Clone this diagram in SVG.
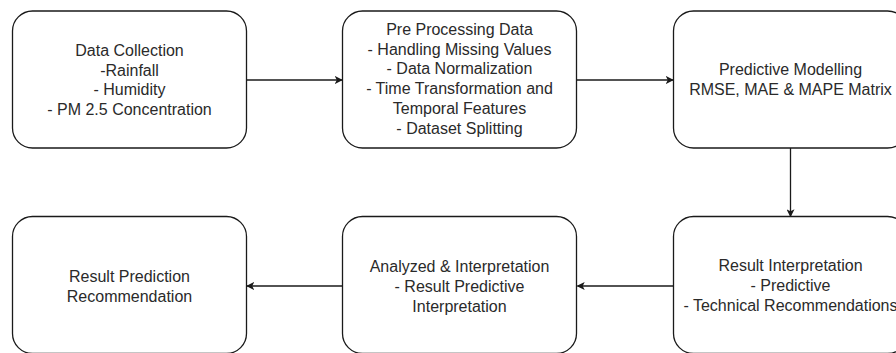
<svg xmlns="http://www.w3.org/2000/svg" width="896" height="353" viewBox="0 0 896 353">
<style>
.box{fill:#fff;stroke:#1a1a1a;stroke-width:1.3}
.t{font-family:"Liberation Sans",Arial,sans-serif;font-size:16px;fill:#2a2a2a;text-anchor:middle}
.c{stroke:#1a1a1a;stroke-width:1.3;fill:none;marker-end:url(#ah)}
</style>
<defs>
<marker id="ah" viewBox="0 0 10 10" refX="9" refY="5" markerWidth="8" markerHeight="8" markerUnits="userSpaceOnUse" orient="auto">
<path d="M0,0 L10,5 L0,10 L2.5,5 Z" fill="#1a1a1a"/>
</marker>
</defs>
<rect width="896" height="353" fill="#fff"/>
<g id="connectors">
<line class="c" x1="246.5" y1="80" x2="342" y2="80"/>
<line class="c" x1="577" y1="80" x2="673" y2="80"/>
<line class="c" x1="790.5" y1="148" x2="790.5" y2="216.5"/>
<line class="c" x1="673" y1="286" x2="577.5" y2="286"/>
<line class="c" x1="342.5" y1="286" x2="247" y2="286"/>
</g>
<g id="n1">
<rect class="box" x="12.5" y="11" width="234" height="137" rx="20"/>
<text class="t" x="129.5" y="56">Data Collection</text>
<text class="t" x="129.5" y="75.5">-Rainfall</text>
<text class="t" x="129.5" y="95">- Humidity</text>
<text class="t" x="129.5" y="114.5">- PM 2.5 Concentration</text>
</g>
<g id="n2">
<rect class="box" x="342.5" y="11" width="234" height="137" rx="20"/>
<text class="t" x="459.5" y="35">Pre Processing Data</text>
<text class="t" x="459.5" y="54.7">- Handling Missing Values</text>
<text class="t" x="459.5" y="74.4">- Data Normalization</text>
<text class="t" x="459.5" y="94.1">- Time Transformation and</text>
<text class="t" x="459.5" y="113.8">Temporal Features</text>
<text class="t" x="459.5" y="133.5">- Dataset Splitting</text>
</g>
<g id="n3">
<rect class="box" x="673.5" y="11" width="234" height="137" rx="20"/>
<text class="t" x="790.5" y="75">Predictive Modelling</text>
<text class="t" x="790.5" y="95">RMSE, MAE &amp; MAPE Matrix</text>
</g>
<g id="n4">
<rect class="box" x="673.5" y="216.5" width="234" height="137" rx="20"/>
<text class="t" x="790.5" y="270.5">Result Interpretation</text>
<text class="t" x="790.5" y="290.5">- Predictive</text>
<text class="t" x="790.5" y="310.5">- Technical Recommendations</text>
</g>
<g id="n5">
<rect class="box" x="342.5" y="216.5" width="234" height="137" rx="20"/>
<text class="t" x="459.5" y="271.5">Analyzed &amp; Interpretation</text>
<text class="t" x="459.5" y="291.5">- Result Predictive</text>
<text class="t" x="459.5" y="311.5">Interpretation</text>
</g>
<g id="n6">
<rect class="box" x="12.5" y="216.5" width="234" height="137" rx="20"/>
<text class="t" x="129.5" y="281.5">Result Prediction</text>
<text class="t" x="129.5" y="302">Recommendation</text>
</g>
</svg>
